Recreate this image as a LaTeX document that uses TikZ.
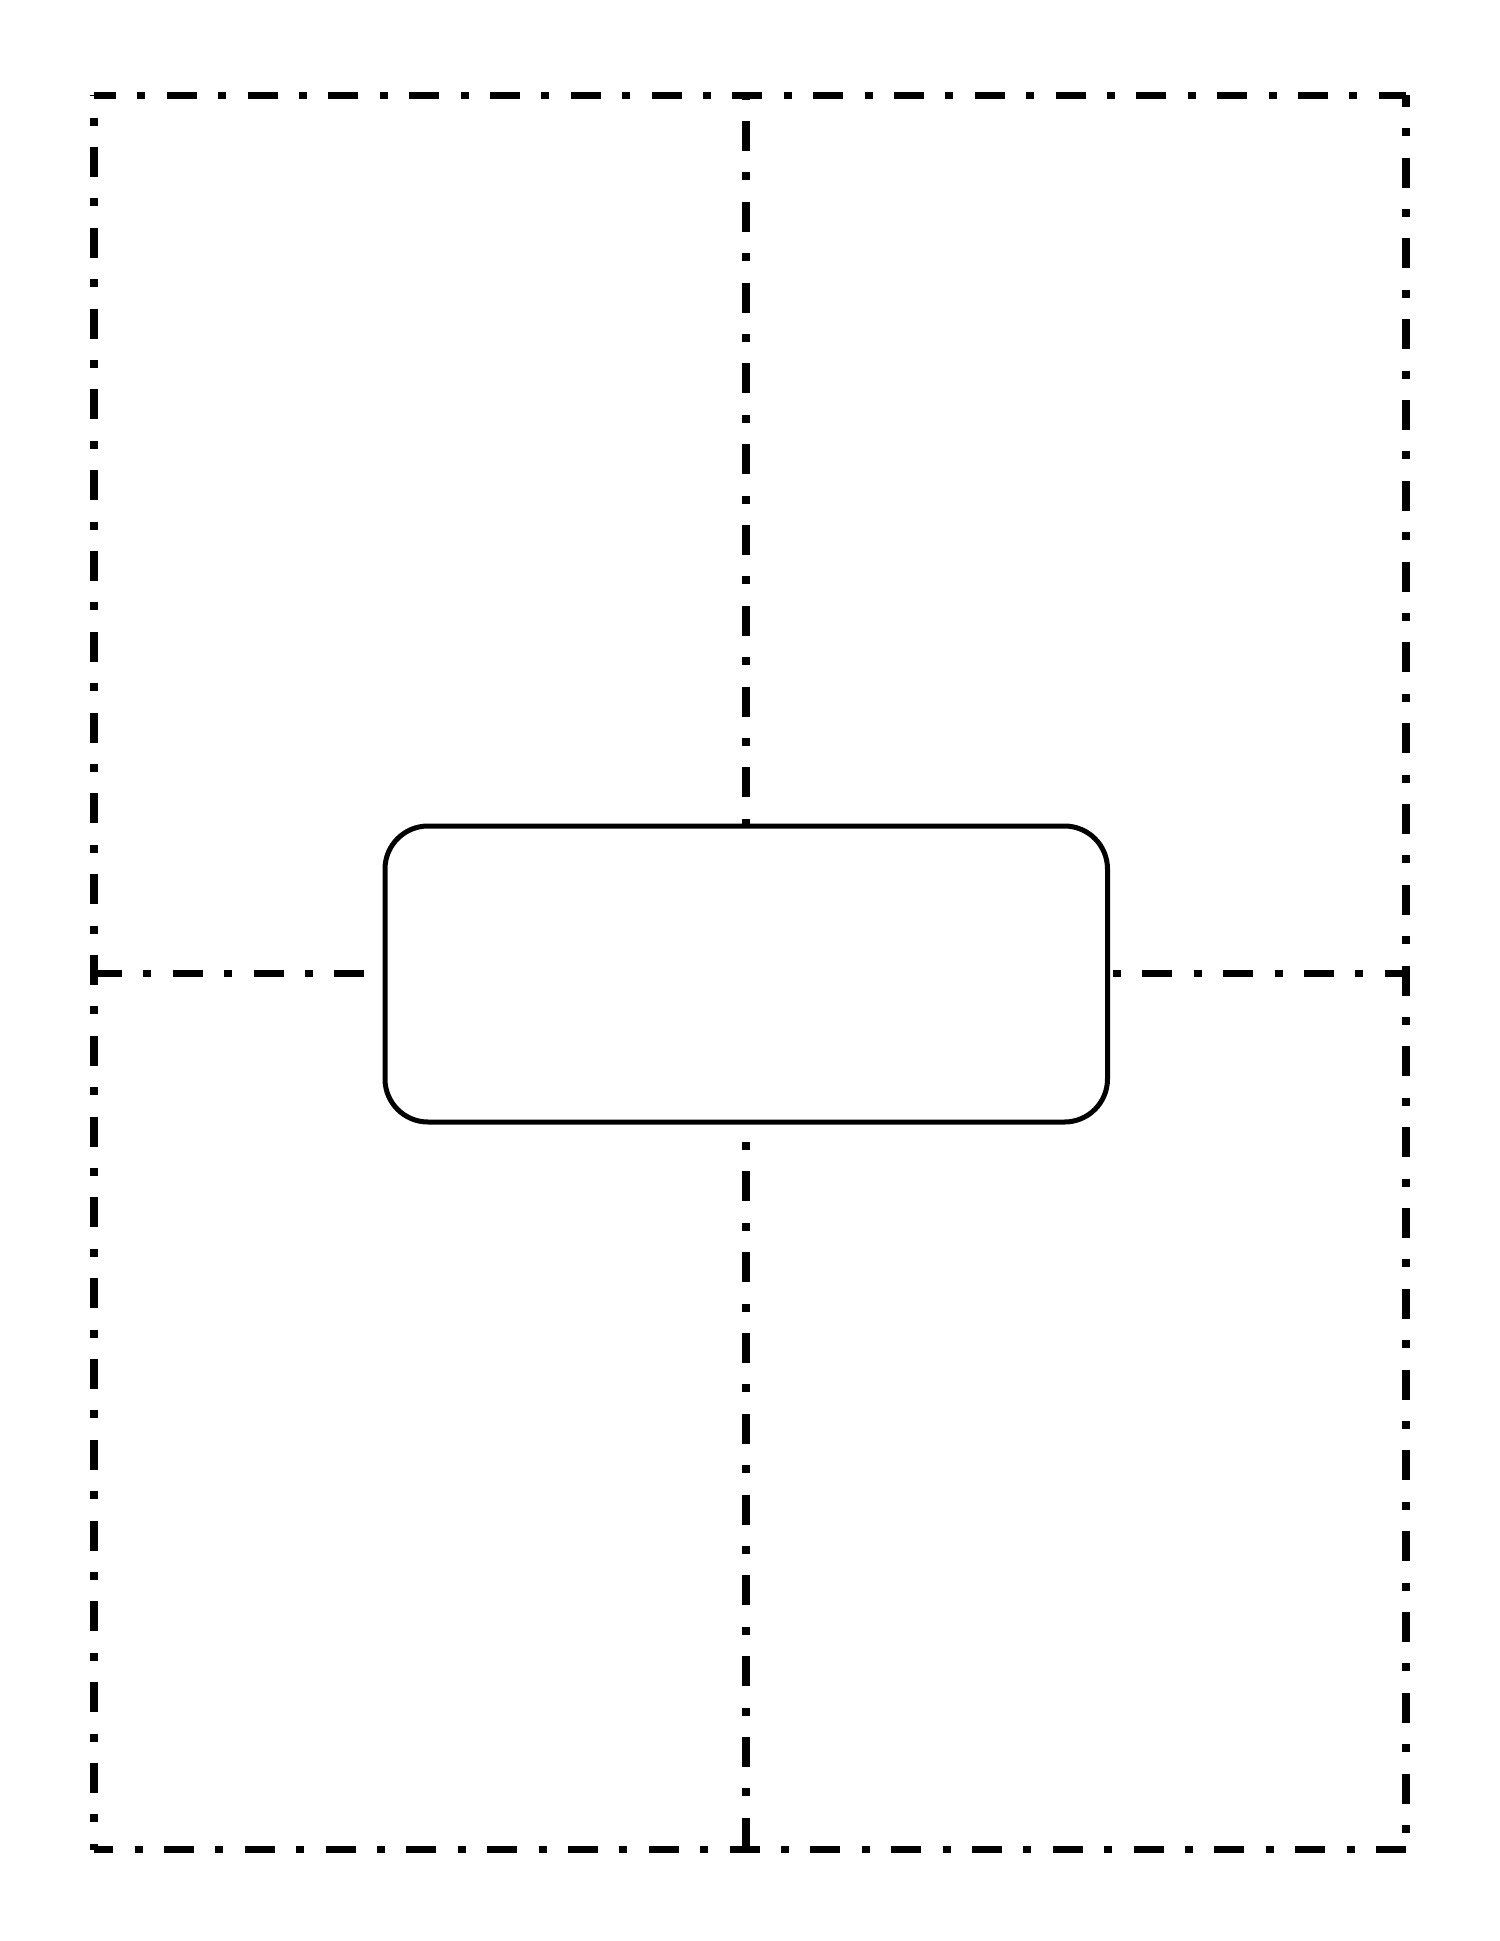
\documentclass[tikz,border=0pt]{standalone}
\usepackage{amsmath}
\usepackage{amssymb}
\usetikzlibrary{positioning}

\tikzset{
  frameline/.style={line width=.75mm, dash pattern=on 3mm off 2.14mm on .8mm off 2.14mm},
  centrebox/.style={draw, fill=white, line width=.5mm, rounded corners=4.3mm,
    minimum width=72.25mm, minimum height=29.6mm, inner sep=0pt}
}

\begin{document}
\begin{tikzpicture}[x=.1mm, y=-.1mm]
            \useasboundingbox (0,0) rectangle (1500,1941);
            \coordinate (tl) at (94,95.5);
            \coordinate (tr) at (1406,95.5);
            \coordinate (bl) at (94,1849.5);
            \coordinate (br) at (1406,1849.5);
            \coordinate (tm) at (746,95.5);
            \coordinate (bm) at (746,1849.5);
            \coordinate (lm) at (94,973.5);
            \coordinate (rm) at (1406,973.5);
            % outer frame
            \draw[frameline, dash phase=.81mm] (tl) -- (tr);
            \draw[frameline, dash phase=1.86mm] (tr) -- (br);
            \draw[frameline, dash phase=1.08mm] (bl) -- (br);
            \draw[frameline, dash phase=2.93mm] (tl) -- (bl);
            % cross
            \draw[frameline, dash phase=5.53mm] (tm) -- (bm);
            \draw[frameline, dash phase=.21mm] (lm) -- (rm);
            \node[centrebox] (cue) at (746.25,974) {};
          \end{tikzpicture}
\end{document}
